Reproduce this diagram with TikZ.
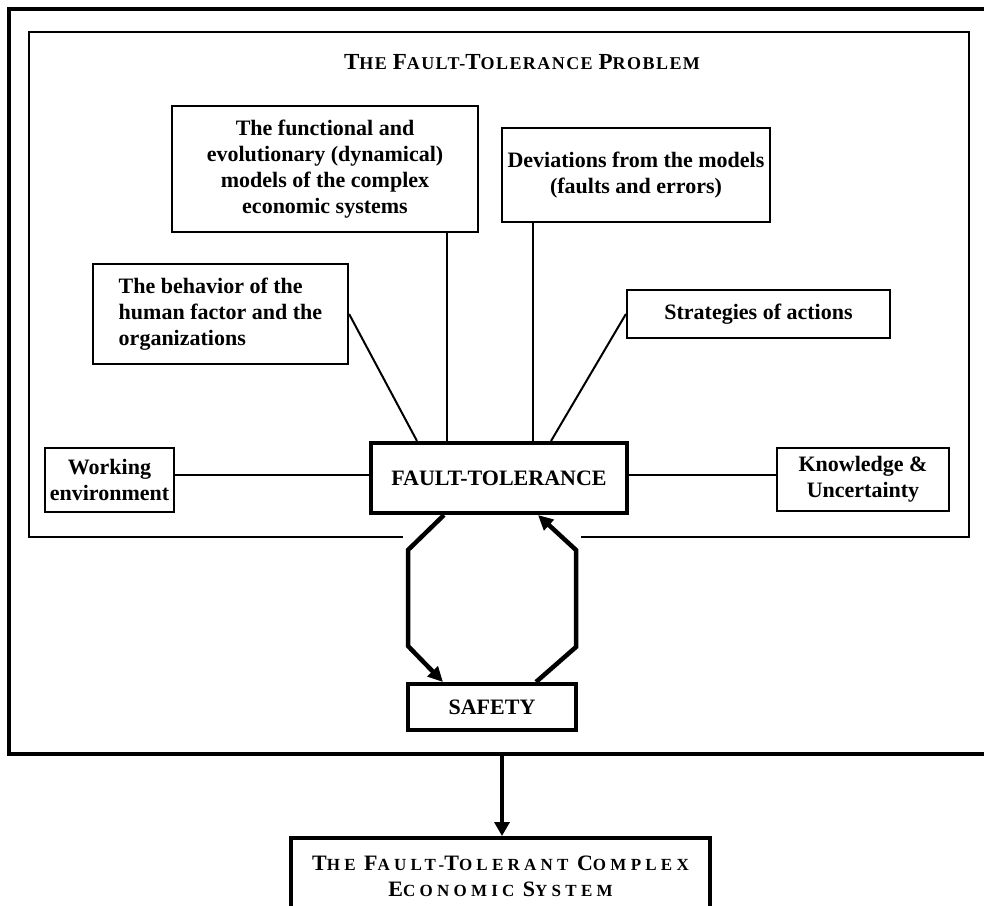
\documentclass[tikz,border=0pt]{standalone}
\usepackage{fontspec}
\setmainfont{Liberation Serif}
\usetikzlibrary{arrows.meta,calc}

% fake small capitals: a full-size capital followed by reduced capitals
\newcommand\capT[1]{{\fontsize{23}{26}\selectfont #1}}
\newcommand\capS[1]{{\fontsize{22}{26}\selectfont #1}}

\begin{document}
\begin{tikzpicture}[x=1pt,y=-1pt,
  plainbox/.style={draw, line width=2.2pt, inner sep=0pt, align=center,
    font=\fontsize{22}{26}\selectfont\bfseries},
  thickbox/.style={plainbox, line width=4pt},
  connector/.style={line width=2pt},
  cyclearrow/.style={line width=4.5pt, line join=miter,
    -{Triangle[length=15pt,width=14pt]}},
  innerframe/.style={line width=2.6pt},
  outerframe/.style={line width=4.5pt},
  downarrow/.style={line width=4.5pt, -{Triangle[length=14pt,width=15pt]}}]

\useasboundingbox (0,0) rectangle (984,905);

% outer frame (continues past the right edge)
\draw[outerframe] (1010,9) -- (9,9) -- (9,754) -- (1010,754);

% inner frame, open at the bottom for the feedback loop
\draw[innerframe] (403,537) -- (29,537) -- (29,32) -- (969,32) -- (969,537) -- (581,537);

\node[font=\fontsize{18}{22}\selectfont\bfseries] (title) at (522,62)
  {\addfontfeature{LetterSpace=8}\capT{T}HE \capT{F}AULT-\capT{T}OLERANCE \capT{P}ROBLEM};

% boxes
\node[plainbox, minimum width=306, minimum height=126] (funcmod) at (325,169)
  {The functional and\\evolutionary (dynamical)\\models of the complex\\economic systems};
\node[plainbox, minimum width=268, minimum height=94] (dev) at (636,175)
  {Deviations from the models\\(faults and errors)};
\node[plainbox, minimum width=255, minimum height=100, align=left] (beh) at (220.5,314)
  {The behavior of the\\human factor and the\\organizations};
\node[plainbox, minimum width=263, minimum height=48] (strat) at (758.5,314)
  {Strategies of actions};
\node[plainbox, minimum width=129, minimum height=64] (work) at (109.5,480)
  {Working\\environment};
\node[thickbox, minimum width=256, minimum height=70] (ft) at (499,478)
  {FAULT-TOLERANCE};
\node[plainbox, minimum width=172, minimum height=63] (know) at (863,479.5)
  {Knowledge \&\\Uncertainty};
\node[thickbox, minimum width=168, minimum height=46] (safety) at (492,707)
  {SAFETY};
\node[thickbox, minimum width=419, minimum height=76, anchor=north,
      font=\fontsize{17}{26}\selectfont\bfseries] (ftces) at (500.5,836)
  {\addfontfeature{LetterSpace=25}\capS{T}HE \capS{F}AULT-\capS{T}OLERANT \capS{C}OMPLEX\\
   \addfontfeature{LetterSpace=25}\capS{E}CONOMIC \capS{S}YSTEM};

% attachment points
\coordinate (midline) at (0,475);
\coordinate (ftN1) at ($(ft.north west)+(48,0)$);
\coordinate (ftN2) at ($(ft.north west)+(78,0)$);
\coordinate (ftN3) at ($(ft.north west)+(164,0)$);
\coordinate (ftN4) at ($(ft.north west)+(182,0)$);
\coordinate (ftS1) at ($(ft.south west)+(75,0)$);
\coordinate (ftS2) at ($(ft.south west)+(169,0)$);
\coordinate (sfN1) at ($(safety.north west)+(37,0)$);
\coordinate (sfN2) at ($(safety.north west)+(130,0)$);
\coordinate (L1) at (408,550);
\coordinate (L2) at (408,646);
\coordinate (R1) at (576,647);
\coordinate (R2) at (576,550);
\coordinate (frameS) at (502,754);

% spokes around the fault-tolerance box
\draw[connector] (beh.east) -- (ftN1);
\draw[connector] (ftN2) -- (ftN2 |- funcmod.south);
\draw[connector] (ftN3) -- (ftN3 |- dev.south);
\draw[connector] (strat.west) -- (ftN4);
\draw[connector] (work.east |- midline) -- (ft.west |- midline);
\draw[connector] (ft.east |- midline) -- (know.west |- midline);

% feedback loop between fault-tolerance and safety
\draw[cyclearrow] (ftS1) -- (L1) -- (L2) -- (sfN1);
\draw[cyclearrow] (sfN2) -- (R1) -- (R2) -- (ftS2);

% result
\draw[downarrow] (frameS) -- (ftces.north -| frameS);
\end{tikzpicture}
\end{document}
